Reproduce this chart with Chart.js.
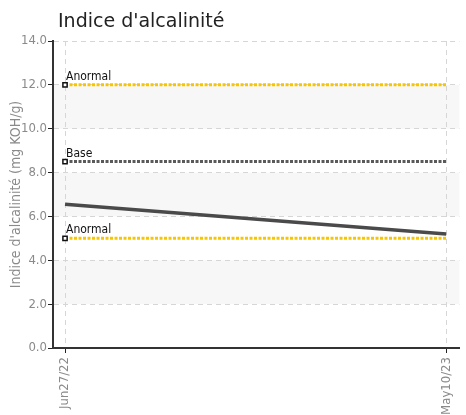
<!DOCTYPE html>
<html>
<head>
<meta charset="utf-8">
<script src="https://cdn.jsdelivr.net/npm/chart.js@4.4.1/dist/chart.umd.min.js"></script>
<style>
    html, body { margin: 0; padding: 0; background: #fff; }
    #wrap { width: 466px; height: 415px; }
</style>
</head>
<body>
<div id="wrap"><canvas id="alcalinite"></canvas></div>
<script>
// Données
const dateLabels = ['Jun27/22', 'May10/23'];
const dayOffsets = [0, 317];
const alcValues = [6.55, 5.2];

const limitNames = ['Anormal', 'Base', 'Anormal'];
const limitValues = [12, 8.5, 5];
const limitColors = ['#f7c600', '#5a5a5a', '#f7c600'];

const yTicks = [0, 2, 4, 6, 8, 10, 12, 14];

const condensed = "'DejaVu Sans Condensed', 'Liberation Sans Narrow', 'Roboto', sans-serif";

// Bandes grises alternées, titre et étiquettes des limites
const bandsPlugin = {
    id: 'bands',
    beforeDraw(chart) {
        const { ctx, chartArea, scales } = chart;
        ctx.save();
        ctx.fillStyle = '#f7f7f7';
        for (let i = 1; i < yTicks.length - 1; i += 2) {
            const yA = scales.y.getPixelForValue(yTicks[i + 1]);
            const yB = scales.y.getPixelForValue(yTicks[i]);
            ctx.fillRect(chartArea.left, yA, chartArea.right - chartArea.left, yB - yA);
        }
        ctx.restore();
    },
    afterDraw(chart) {
        const { ctx, scales } = chart;
        ctx.save();
        ctx.fillStyle = '#222';
        ctx.font = "19px 'DejaVu Sans', sans-serif";
        ctx.textBaseline = 'alphabetic';
        ctx.fillText("Indice d'alcalinité", 58, 27);

        ctx.font = "12px " + condensed;
        ctx.fillStyle = '#111';
        limitNames.forEach((name, i) => {
            const x = scales.x.getPixelForValue(dayOffsets[0]);
            const y = scales.y.getPixelForValue(limitValues[i]);
            ctx.fillText(name, x + 1, y - 5);
        });
        ctx.restore();
    }
};

const limitSets = limitNames.map((name, i) => ({
    label: name,
    data: dayOffsets.map(d => ({ x: d, y: limitValues[i] })),
    borderColor: limitColors[i],
    borderWidth: 3,
    borderDash: [3, 1.5],
    pointStyle: 'rect',
    pointRadius: [3, 0],
    pointBorderWidth: 1.5,
    pointBackgroundColor: '#fff',
    pointBorderColor: '#111',
    order: 2
}));

let ctx = document.getElementById('alcalinite').getContext('2d');
let chart = new Chart(ctx, {
    type: 'line',
    data: {
        datasets: [{
            label: 'Indice',
            data: dayOffsets.map((d, i) => ({ x: d, y: alcValues[i] })),
            borderColor: '#4a4a4a',
            borderWidth: 3.5,
            pointRadius: 0,
            order: 1
        }, ...limitSets]
    },
    options: {
        responsive: true,
        maintainAspectRatio: false,
        animation: false,
        layout: {
            padding: { top: 41, right: 6, left: 8, bottom: 0 }
        },
        plugins: {
            legend: { display: false },
            tooltip: { enabled: false }
        },
        scales: {
            x: {
                type: 'linear',
                min: -10,
                max: 328,
                afterBuildTicks: s => { s.ticks = dayOffsets.map(v => ({ value: v })); },
                afterFit: s => { s.height = 67; },
                ticks: {
                    autoSkip: false,
                    maxRotation: 90,
                    minRotation: 90,
                    padding: 4,
                    color: '#8a8a8a',
                    font: { size: 13, family: condensed },
                    callback: (v) => dateLabels[dayOffsets.indexOf(v)]
                },
                grid: {
                    color: '#d6d6d6',
                    tickColor: '#222',
                    tickLength: 5,
                    tickBorderDash: [],
                    lineWidth: 1
                },
                border: { display: true, color: '#333', width: 2, dash: [5, 4] }
            },
            y: {
                min: 0,
                max: 14,
                afterBuildTicks: s => { s.ticks = yTicks.map(v => ({ value: v })); },
                afterFit: s => { s.width = 45; },
                ticks: {
                    color: '#8a8a8a',
                    padding: 1,
                    font: { size: 13, family: condensed },
                    callback: v => v.toFixed(1)
                },
                grid: {
                    color: '#d6d6d6',
                    tickColor: '#222',
                    tickLength: 5,
                    tickBorderDash: [],
                    lineWidth: 1
                },
                border: { display: true, color: '#333', width: 2, dash: [5, 4] },
                title: {
                    display: true,
                    text: "Indice d'alcalinité (mg KOH/g)",
                    color: '#8a8a8a',
                    padding: { top: 0, bottom: 1 },
                    font: { size: 14, family: condensed }
                }
            }
        }
    },
    plugins: [bandsPlugin]
});
</script>
</body>
</html>
